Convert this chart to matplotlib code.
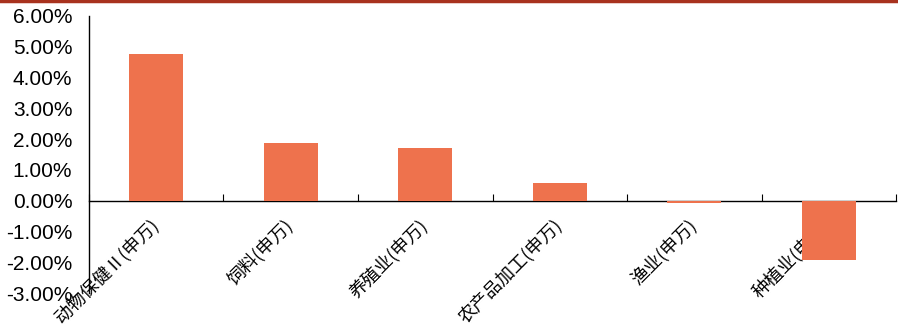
import numpy as np
import matplotlib.pyplot as plt
from matplotlib.lines import Line2D
from matplotlib.ticker import FuncFormatter

categories = ['动物保健Ⅱ(申万)', '饲料(申万)', '养殖业(申万)', '农产品加工(申万)', '渔业(申万)', '种植业(申万)']
values = [4.77, 1.88, 1.72, 0.58, -0.08, -1.92]  # percent

plt.rcParams['font.family'] = ['Liberation Sans', 'DejaVu Sans']

fig = plt.figure(figsize=(8.98, 3.31), dpi=100)
ax = fig.add_axes([0.0991, 0.1148, 0.8987, 0.8369])

x = np.arange(len(categories))
ax.bar(x, values, width=0.4, color='#EE724D', zorder=2)

ax.set_xlim(-0.5, len(categories) - 0.5)
ax.set_ylim(-3, 6)
ax.set_yticks(np.arange(-3, 7, 1))
ax.yaxis.set_major_formatter(FuncFormatter(lambda v, p: f'{v:.2f}%'))
ax.tick_params(axis='y', length=0, labelsize=15, pad=12, colors='black')

ax.spines['bottom'].set_position(('data', 0))
ax.spines['top'].set_visible(False)
ax.spines['right'].set_visible(False)
ax.spines['left'].set_linewidth(1.0)
ax.spines['bottom'].set_linewidth(1.0)
ax.spines['bottom'].set_zorder(1)

ax.set_xticks(np.arange(len(categories) + 1) - 0.5)
ax.set_xticklabels([])
ax.tick_params(axis='x', which='major', direction='in', length=5)
ax.set_xticks(x, minor=True)
ax.set_xticklabels(categories, minor=True, rotation=45, rotation_mode='anchor',
                   ha='right', va='center', fontsize=13,
                   family=['Noto Sans CJK SC', 'DejaVu Sans'])
ax.tick_params(axis='x', which='minor', length=0, pad=16)

fig.add_artist(Line2D([0, 1], [0.996, 0.996], color='#A8321E', linewidth=2.5))

fig.savefig('out.png', dpi=100)
